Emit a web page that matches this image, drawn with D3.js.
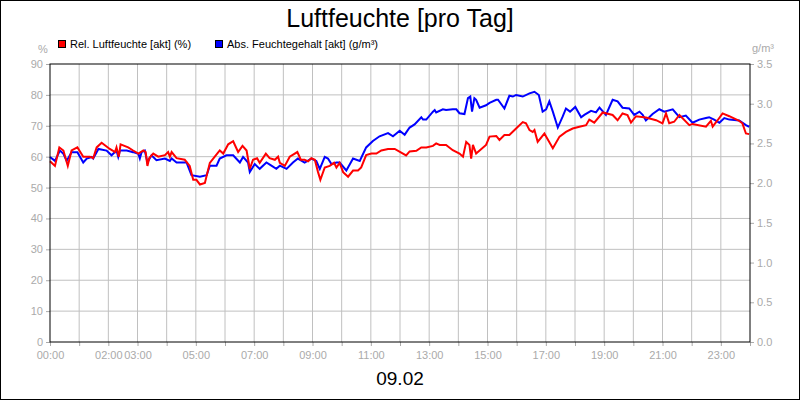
<!DOCTYPE html><html><head><meta charset="utf-8"><script src="https://cdn.jsdelivr.net/npm/d3@7"></script>
<style>body{margin:0;background:#fff}svg{font-family:"Liberation Sans",Arial,sans-serif}</style></head><body><svg id="c" width="800" height="400"></svg>
<script>
const xTickHours=[0,2,3,5,7,9,11,13,15,17,19,21,23];
const xTickLabels=["00:00","02:00","03:00","05:00","07:00","09:00","11:00","13:00","15:00","17:00","19:00","21:00","23:00"];
const leftTicks=[0,10,20,30,40,50,60,70,80,90];
const rightTicks=[0,0.5,1,1.5,2,2.5,3,3.5];
const seriesNames=["Rel. Luftfeuchte [akt] (%)","Abs. Feuchtegehalt [akt] (g/m³)"];
const relHours=[0,.17,.32,.46,.61,.74,.94,1.14,1.37,1.48,1.60,1.77,2.05,2.23,2.28,2.36,2.42,2.68,2.85,3.03,3.20,3.28,3.34,3.40,3.54,3.71,3.94,4.05,4.11,4.17,4.34,4.62,4.79,4.91,5.02,5.14,5.31,5.48,5.65,5.82,5.94,6.11,6.28,6.45,6.60,6.74,6.85,6.96,7.10,7.19,7.40,7.53,7.71,7.82,7.88,8.05,8.22,8.48,8.60,8.73,8.85,8.96,9.08,9.19,9.27,9.42,9.59,9.74,9.82,9.93,10.05,10.22,10.39,10.56,10.67,10.84,11.02,11.19,11.36,11.59,11.82,
12.21,12.33,12.56,12.73,12.90,13.13,13.24,13.36,13.58,13.81,14.04,14.16,14.27,14.38,14.44,14.50,14.61,14.95,15.07,15.30,15.41,15.58,15.75,15.98,16.21,16.32,16.44,16.55,16.61,16.72,16.95,17.24,17.47,17.69,17.92,18.15,18.38,18.49,18.66,18.95,19.29,19.46,19.63,19.80,19.92,20.09,20.43,20.78,21.00,21.12,21.23,21.40,21.58,21.92,22.03,22.49,22.66,22.72,22.89,23.06,23.29,23.63,23.74,23.86,23.97];
const relValues=[58.5,57,63,62,57,62,63,60,60,59.5,63,64.5,62.5,61.5,63,60,64,63,62,61,62,61.5,57,59.5,61,60,60.5,61.5,60,61.5,59.5,59,57,52.5,52.5,51,51.5,58,60,62,61,64,65,61.5,63.5,62,56,59,59.5,58,61,59.5,59,60,58,57,60,61.5,59,59,58.5,59.5,59,55,52.5,56.5,57,58,56.5,58,55,53.5,55.5,55.5,56.5,60.5,61,61,62,62.5,62.5,
60.4,61.7,61.9,63,63,63.5,64.3,63.8,63.8,62.1,61,60,64.8,63.8,59.4,63.8,61,63.8,66.5,66.7,65.4,67,67,69.1,71.2,70.8,68.6,68,68.6,64.8,67.5,62.7,66.5,68,69.1,69.7,70.2,72,71,74.3,73.5,71.8,74,73.5,71,73.1,72.7,71.8,70.8,74,70.8,71.3,73.5,70.2,70.6,69.7,71.6,69.7,71.8,74,73.1,71.6,70.8,67.5,67.3];
const absHours=[0,.17,.34,.46,.57,.74,.94,1.14,1.26,1.43,1.48,1.66,1.94,2.11,2.28,2.34,2.40,2.63,2.85,3.03,3.08,3.14,3.25,3.34,3.48,3.65,3.94,4.11,4.17,4.34,4.68,4.85,5.14,5.37,5.48,5.71,5.82,6.05,6.28,6.51,6.62,6.79,6.85,7.02,7.19,7.42,7.59,7.76,7.88,8.11,8.33,8.50,8.73,8.96,9.13,9.25,9.42,9.53,9.65,9.82,9.93,10.16,10.39,10.62,10.84,11.07,11.30,11.59,11.76,11.99,
12.16,12.33,12.50,12.73,12.79,12.90,13.13,13.19,13.24,13.47,13.58,13.81,13.93,14.04,14.21,14.33,14.41,14.47,14.55,14.61,14.73,14.95,15.07,15.30,15.36,15.58,15.75,15.87,15.98,16.21,16.44,16.61,16.76,16.89,17.01,17.12,17.24,17.41,17.58,17.69,17.83,18.01,18.21,18.32,18.55,18.72,18.84,19.06,19.29,19.46,19.63,19.86,20.03,20.21,20.32,20.43,20.66,20.89,21.06,21.35,21.58,21.80,22.03,22.26,22.49,22.60,22.77,22.95,23.12,23.29,23.63,23.86,23.97];
const absValues=[2.33,2.28,2.41,2.37,2.28,2.39,2.39,2.26,2.31,2.33,2.31,2.43,2.41,2.35,2.41,2.33,2.41,2.41,2.39,2.37,2.31,2.39,2.41,2.26,2.35,2.29,2.31,2.28,2.31,2.26,2.26,2.10,2.08,2.10,2.22,2.22,2.31,2.35,2.35,2.26,2.33,2.26,2.14,2.24,2.18,2.26,2.22,2.18,2.22,2.18,2.26,2.31,2.26,2.31,2.28,2.18,2.33,2.31,2.24,2.26,2.26,2.16,2.31,2.28,2.45,2.53,2.59,2.63,2.59,2.66,
2.61,2.70,2.74,2.83,2.80,2.80,2.90,2.92,2.89,2.93,2.92,2.93,2.93,2.88,2.87,3.07,3.09,2.90,3.07,3.05,2.95,2.98,3.01,3.05,3.05,2.94,3.10,3.09,3.11,3.09,3.13,3.15,3.11,2.90,2.93,3.03,2.90,2.70,2.84,2.94,2.90,2.96,2.83,2.86,2.91,2.89,2.95,2.86,3.05,3.03,2.95,2.94,2.86,2.90,2.86,2.79,2.87,2.93,2.90,2.93,2.83,2.85,2.76,2.80,2.82,2.83,2.80,2.76,2.82,2.80,2.79,2.73,2.71,2.71];

const svg=d3.select("#c");
const L=50,R=750,T=64,B=342,grey="#aaa",grid="#c0c0c0";
svg.append("rect").attr("x",0.5).attr("y",0.5).attr("width",799).attr("height",399).attr("fill","#fff").attr("stroke","#000");
const x=d3.scaleLinear().domain([0,24]).range([L,R]);
const yL=d3.scaleLinear().domain([0,90]).range([B,T]);
const yR=d3.scaleLinear().domain([0,3.5]).range([B,T]);
// grid
svg.append("g").selectAll("line").data(d3.range(1,24)).join("line").attr("x1",d=>x(d)).attr("x2",d=>x(d)).attr("y1",T).attr("y2",B).attr("stroke",grid);
svg.append("g").selectAll("line").data(leftTicks.slice(1,-1)).join("line").attr("y1",d=>yL(d)).attr("y2",d=>yL(d)).attr("x1",L).attr("x2",R).attr("stroke",grid);
// axes
const gx=svg.append("g").attr("transform",`translate(0,${B})`).call(d3.axisBottom(x).tickValues(d3.range(0,25)).tickSize(4).tickFormat(d=>{const i=xTickHours.indexOf(d);return i<0?"":xTickLabels[i];}));
const gl=svg.append("g").attr("transform",`translate(${L},0)`).call(d3.axisLeft(yL).tickValues(leftTicks).tickSize(4).tickFormat(d3.format("d")));
const gr=svg.append("g").attr("transform",`translate(${R},0)`).call(d3.axisRight(yR).tickValues(rightTicks).tickSize(4).tickFormat(d3.format(".1f")));
[gx,gl,gr].forEach(g=>{g.select(".domain").remove();g.selectAll("line").attr("stroke",grey);g.selectAll("text").attr("fill",grey).style("font-size","11px");});
gx.selectAll("text").attr("dy","0.9em");
// lines
const lr=d3.line().x((d,i)=>x(relHours[i])).y(d=>yL(d));
const la=d3.line().x((d,i)=>x(absHours[i])).y(d=>yR(d));
svg.append("path").attr("d",la(absValues)).attr("fill","none").attr("stroke","#0000ff").attr("stroke-width",2);
svg.append("path").attr("d",lr(relValues)).attr("fill","none").attr("stroke","#ff0000").attr("stroke-width",2);
svg.append("rect").attr("x",L).attr("y",T).attr("width",R-L).attr("height",B-T).attr("fill","none").attr("stroke","#000");
// texts
svg.append("text").attr("x",400).attr("y",27).attr("text-anchor","middle").style("font-size","25px").text("Luftfeuchte [pro Tag]");
svg.append("text").attr("x",400).attr("y",385).attr("text-anchor","middle").style("font-size","19px").text("09.02");
svg.append("text").attr("x",43).attr("y",53).attr("text-anchor","middle").attr("fill",grey).style("font-size","11px").text("%");
svg.append("text").attr("x",763).attr("y",52).attr("text-anchor","middle").attr("fill",grey).style("font-size","11px").text("g/m³");
const leg=[[58,"#ff0000"],[215,"#0000ff"]];
leg.forEach((l,i)=>{svg.append("rect").attr("x",l[0]+0.5).attr("y",40.5).attr("width",7).attr("height",7).attr("fill",l[1]).attr("stroke","#000");
svg.append("text").attr("x",l[0]+12).attr("y",48).style("font-size","11px").text(seriesNames[i]);});
</script></body></html>
